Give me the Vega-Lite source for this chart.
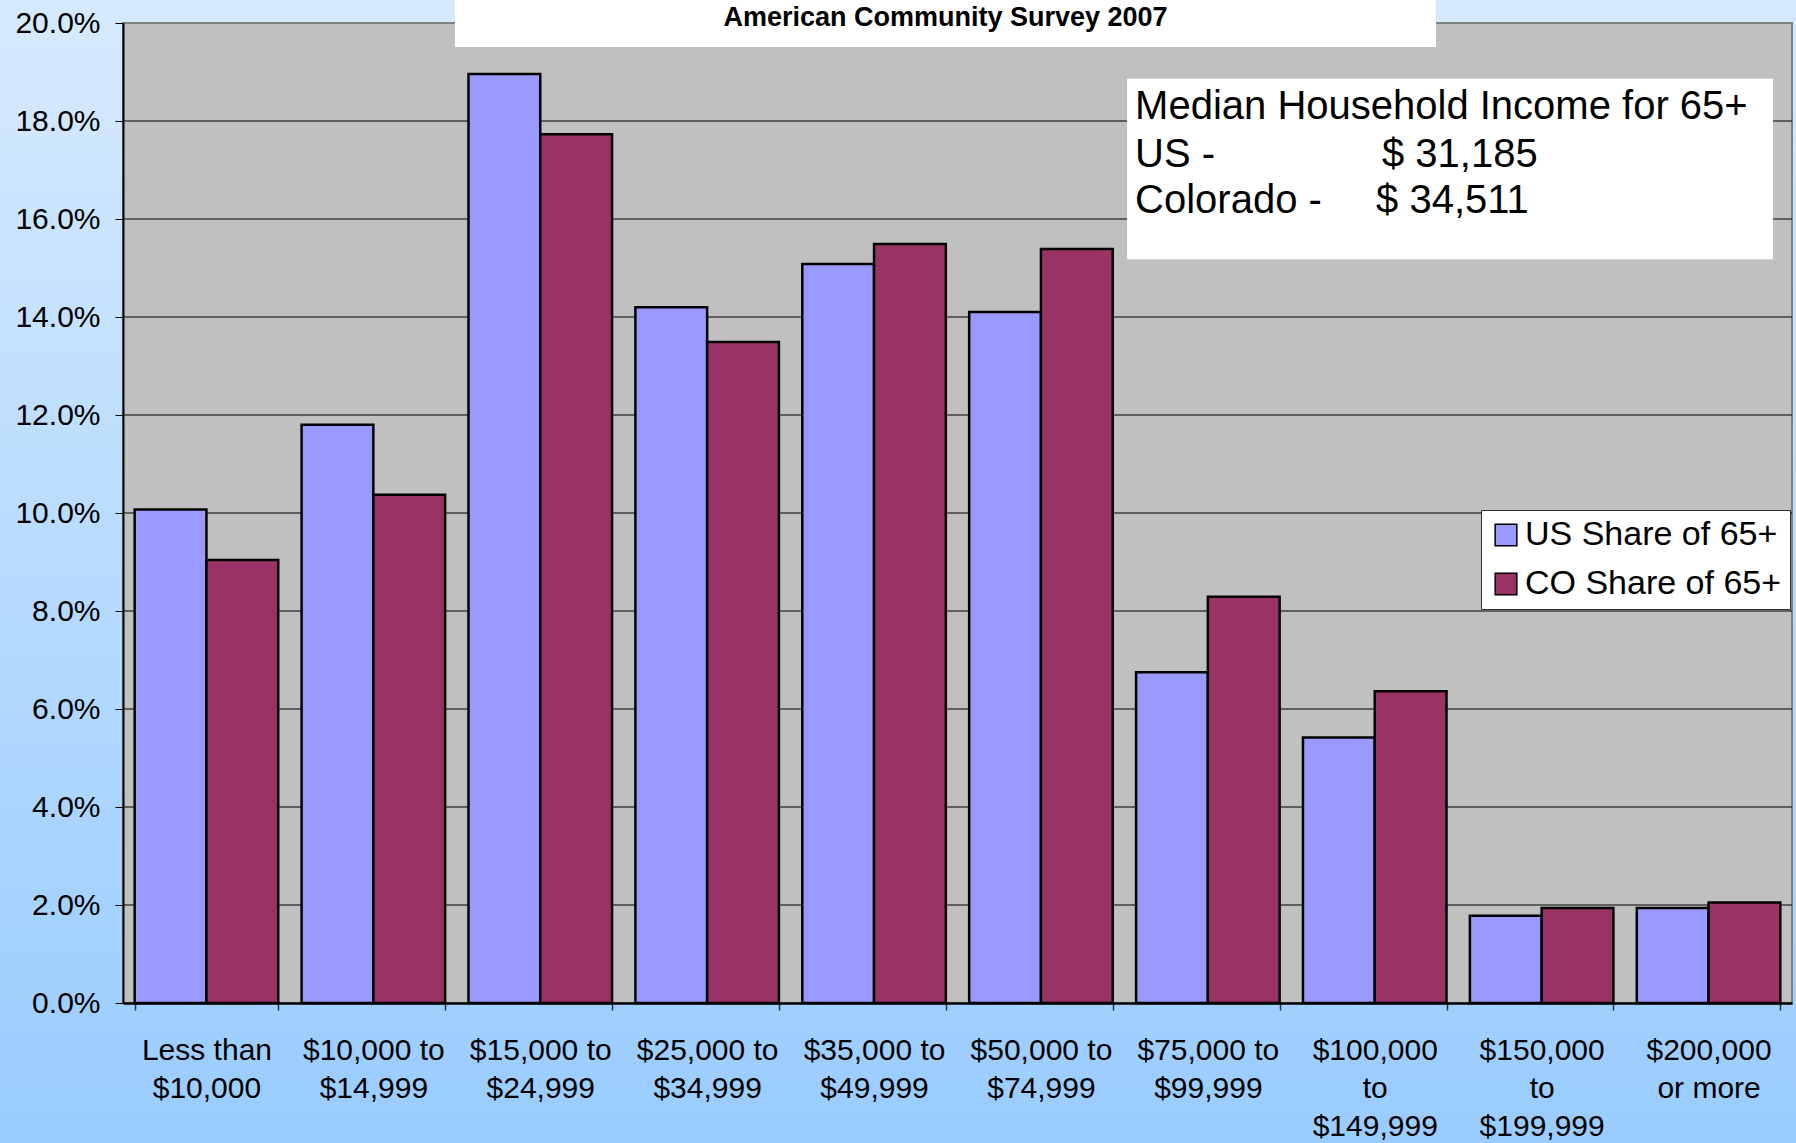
{
  "$schema": "https://vega.github.io/schema/vega-lite/v6.json",
  "autosize": "none",
  "padding": {"left": 123, "top": 23, "right": 4, "bottom": 140},
  "width": 1669,
  "height": 980,
  "background": "#b6dafe",
  "config": {"view": {"stroke": null, "fill": null}},
  "title": {
    "text": "American Community Survey 2007",
    "anchor": "middle",
    "offset": -33,
    "dx": -12,
    "font": "Liberation Sans",
    "fontSize": 27,
    "fontWeight": "bold",
    "color": "#000000"
  },
  "datasets": {
    "income": [
      {"income": "Less than|$10,000", "series": "US Share of 65+", "share": 0.1007},
      {"income": "Less than|$10,000", "series": "CO Share of 65+", "share": 0.0904},
      {"income": "$10,000 to|$14,999", "series": "US Share of 65+", "share": 0.1180},
      {"income": "$10,000 to|$14,999", "series": "CO Share of 65+", "share": 0.1037},
      {"income": "$15,000 to|$24,999", "series": "US Share of 65+", "share": 0.1896},
      {"income": "$15,000 to|$24,999", "series": "CO Share of 65+", "share": 0.1773},
      {"income": "$25,000 to|$34,999", "series": "US Share of 65+", "share": 0.1420},
      {"income": "$25,000 to|$34,999", "series": "CO Share of 65+", "share": 0.1349},
      {"income": "$35,000 to|$49,999", "series": "US Share of 65+", "share": 0.1508},
      {"income": "$35,000 to|$49,999", "series": "CO Share of 65+", "share": 0.1549},
      {"income": "$50,000 to|$74,999", "series": "US Share of 65+", "share": 0.1410},
      {"income": "$50,000 to|$74,999", "series": "CO Share of 65+", "share": 0.1539},
      {"income": "$75,000 to|$99,999", "series": "US Share of 65+", "share": 0.0675},
      {"income": "$75,000 to|$99,999", "series": "CO Share of 65+", "share": 0.0829},
      {"income": "$100,000|to|$149,999", "series": "US Share of 65+", "share": 0.0542},
      {"income": "$100,000|to|$149,999", "series": "CO Share of 65+", "share": 0.0636},
      {"income": "$150,000|to|$199,999", "series": "US Share of 65+", "share": 0.0178},
      {"income": "$150,000|to|$199,999", "series": "CO Share of 65+", "share": 0.0194},
      {"income": "$200,000|or more", "series": "US Share of 65+", "share": 0.0194},
      {"income": "$200,000|or more", "series": "CO Share of 65+", "share": 0.0205}
    ],
    "grid": [
      {"g": 0.02}, {"g": 0.04}, {"g": 0.06}, {"g": 0.08}, {"g": 0.10},
      {"g": 0.12}, {"g": 0.14}, {"g": 0.16}, {"g": 0.18}
    ],
    "one": [{"n": 1}]
  },
  "resolve": {"scale": {"x": "independent"}, "axis": {"x": "independent"}},
  "layer": [
    {
      "data": {"name": "one"},
      "mark": {
        "type": "rect",
        "fill": {
          "gradient": "linear", "x1": 0, "y1": 0, "x2": 0, "y2": 1,
          "stops": [{"offset": 0, "color": "#d6eafe"}, {"offset": 1, "color": "#99ccff"}]
        }
      },
      "encoding": {
        "x": {"datum": -0.0738, "type": "quantitative", "scale": {"domain": [0, 1], "nice": false, "zero": false}, "axis": null},
        "x2": {"datum": 1.0025},
        "y": {"datum": 0.2048, "type": "quantitative", "scale": {"domain": [0, 0.2], "nice": false}},
        "y2": {"datum": -0.0287}
      }
    },
    {
      "data": {"name": "one"},
      "mark": {"type": "rect", "fill": "#c0c0c0", "stroke": "#808080", "strokeWidth": 2},
      "encoding": {
        "x": {"datum": 0, "type": "quantitative", "scale": {"domain": [0, 1], "nice": false, "zero": false}, "axis": null},
        "x2": {"datum": 1},
        "y": {"datum": 0.2, "type": "quantitative", "scale": {"domain": [0, 0.2], "nice": false}},
        "y2": {"datum": 0}
      }
    },
    {
      "data": {"name": "grid"},
      "mark": {"type": "rule", "color": "#000000", "strokeWidth": 1.2},
      "encoding": {
        "y": {"field": "g", "type": "quantitative", "scale": {"domain": [0, 0.2], "nice": false}}
      }
    },
    {
      "data": {"name": "income"},
      "mark": {"type": "bar", "stroke": "#000000", "strokeWidth": 2.5, "opacity": 1},
      "encoding": {
        "x": {
          "field": "income", "type": "nominal", "sort": null,
          "scale": {"paddingInner": 0.14, "paddingOuter": 0.07},
          "axis": {
            "title": null,
            "labelExpr": "datum.value ? split(datum.value, '|') : ''",
            "labelAngle": 0,
            "labelFont": "Liberation Sans",
            "labelFontSize": 30,
            "labelLineHeight": 38,
            "labelColor": "#000000",
            "labelPadding": 25,
            "labelBaseline": "top",
            "labelLimit": 0,
            "labelOverlap": false,
            "labelBound": false,
            "tickBand": "extent",
            "tickSize": 7,
            "tickColor": "#333333",
            "tickWidth": 1.5,
            "domainColor": "#000000",
            "domainWidth": 2.5,
            "grid": false,
            "zindex": 1
          }
        },
        "xOffset": {"field": "series", "type": "nominal", "sort": ["US Share of 65+", "CO Share of 65+"]},
        "y": {
          "field": "share", "type": "quantitative",
          "scale": {"domain": [0, 0.2], "nice": false},
          "axis": {
            "orient": "left",
            "title": null,
            "values": [0, 0.02, 0.04, 0.06, 0.08, 0.1, 0.12, 0.14, 0.16, 0.18, 0.2],
            "format": ".1%",
            "labelFont": "Liberation Sans",
            "labelFontSize": 30,
            "labelColor": "#000000",
            "labelPadding": 15,
            "tickSize": 8,
            "tickColor": "#000000",
            "domainColor": "#000000",
            "domainWidth": 2,
            "grid": false,
            "zindex": 2
          }
        },
        "color": {
          "field": "series", "type": "nominal",
          "scale": {"domain": ["US Share of 65+", "CO Share of 65+"], "range": ["#9999ff", "#993366"]},
          "legend": {
            "title": null,
            "orient": "none",
            "legendX": 1358,
            "legendY": 487,
            "direction": "vertical",
            "fillColor": "#ffffff",
            "strokeColor": "#333333",
            "padding": 8,
            "symbolType": "square",
            "symbolSize": 470,
            "symbolStrokeColor": "#000000",
            "symbolStrokeWidth": 1.5,
            "symbolOpacity": 1,
            "labelFont": "Liberation Sans",
            "labelFontSize": 34,
            "labelColor": "#000000",
            "labelOffset": 2,
            "labelLimit": 0,
            "rowPadding": 15
          }
        }
      }
    },
    {
      "data": {"name": "one"},
      "mark": {"type": "rect", "fill": "#ffffff"},
      "encoding": {
        "x": {"datum": 0.1989, "type": "quantitative", "scale": {"domain": [0, 1], "nice": false, "zero": false}, "axis": null},
        "x2": {"datum": 0.7867},
        "y": {"datum": 0.2048, "type": "quantitative", "scale": {"domain": [0, 0.2], "nice": false}},
        "y2": {"datum": 0.1951}
      }
    },
    {
      "data": {"name": "one"},
      "mark": {"type": "rect", "fill": "#ffffff"},
      "encoding": {
        "x": {"datum": 0.6016, "type": "quantitative", "scale": {"domain": [0, 1], "nice": false, "zero": false}, "axis": null},
        "x2": {"datum": 0.9886},
        "y": {"datum": 0.1886, "type": "quantitative", "scale": {"domain": [0, 0.2], "nice": false}},
        "y2": {"datum": 0.1518}
      }
    },
    {
      "data": {"name": "one"},
      "mark": {"type": "text", "text": "Median Household Income for 65+", "align": "left", "baseline": "alphabetic", "font": "Liberation Sans", "fontSize": 40, "color": "#000000"},
      "encoding": {
        "x": {"datum": 0.6064, "type": "quantitative", "scale": {"domain": [0, 1], "nice": false, "zero": false}, "axis": null},
        "y": {"datum": 0.1804, "type": "quantitative", "scale": {"domain": [0, 0.2], "nice": false}}
      }
    },
    {
      "data": {"name": "one"},
      "mark": {"type": "text", "text": "US -", "align": "left", "baseline": "alphabetic", "font": "Liberation Sans", "fontSize": 40, "color": "#000000"},
      "encoding": {
        "x": {"datum": 0.6064, "type": "quantitative", "scale": {"domain": [0, 1], "nice": false, "zero": false}, "axis": null},
        "y": {"datum": 0.1706, "type": "quantitative", "scale": {"domain": [0, 0.2], "nice": false}}
      }
    },
    {
      "data": {"name": "one"},
      "mark": {"type": "text", "text": "$ 31,185", "align": "left", "baseline": "alphabetic", "font": "Liberation Sans", "fontSize": 40, "color": "#000000"},
      "encoding": {
        "x": {"datum": 0.7543, "type": "quantitative", "scale": {"domain": [0, 1], "nice": false, "zero": false}, "axis": null},
        "y": {"datum": 0.1706, "type": "quantitative", "scale": {"domain": [0, 0.2], "nice": false}}
      }
    },
    {
      "data": {"name": "one"},
      "mark": {"type": "text", "text": "Colorado -", "align": "left", "baseline": "alphabetic", "font": "Liberation Sans", "fontSize": 40, "color": "#000000"},
      "encoding": {
        "x": {"datum": 0.6064, "type": "quantitative", "scale": {"domain": [0, 1], "nice": false, "zero": false}, "axis": null},
        "y": {"datum": 0.1612, "type": "quantitative", "scale": {"domain": [0, 0.2], "nice": false}}
      }
    },
    {
      "data": {"name": "one"},
      "mark": {"type": "text", "text": "$ 34,511", "align": "left", "baseline": "alphabetic", "font": "Liberation Sans", "fontSize": 40, "color": "#000000"},
      "encoding": {
        "x": {"datum": 0.7508, "type": "quantitative", "scale": {"domain": [0, 1], "nice": false, "zero": false}, "axis": null},
        "y": {"datum": 0.1612, "type": "quantitative", "scale": {"domain": [0, 0.2], "nice": false}}
      }
    }
  ]
}
